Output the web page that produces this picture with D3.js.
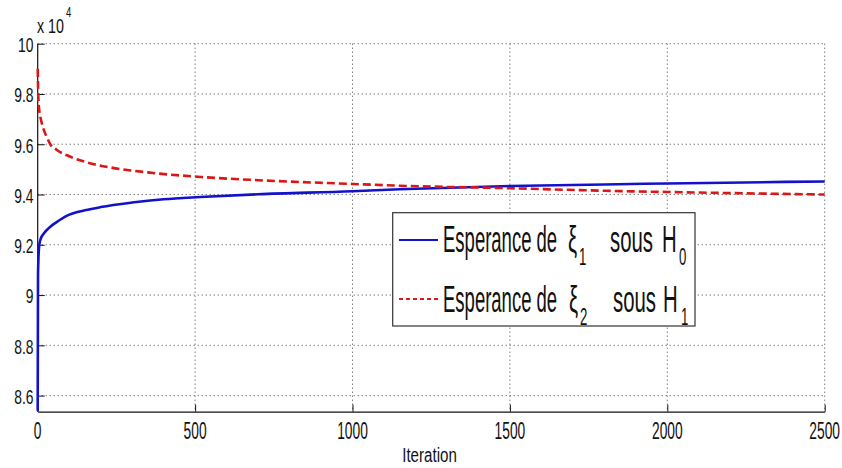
<!DOCTYPE html>
<html>
<head>
<meta charset="utf-8">
<script src="https://cdn.jsdelivr.net/npm/d3@7"></script>
<style>
  html, body { margin: 0; padding: 0; background: #fff; }
  svg { display: block; }
  text { font-family: "Liberation Sans", Arial, sans-serif; fill: #111; }
</style>
</head>
<body>
<svg id="chart" width="842" height="468"></svg>
<script>
// ---- data ----
const xTicks = [0, 500, 1000, 1500, 2000, 2500];
const yTicks = [8.6, 8.8, 9, 9.2, 9.4, 9.6, 9.8, 10];
const yTickLabels = ["8.6", "8.8", "9", "9.2", "9.4", "9.6", "9.8", "10"];
const xLabel = "Iteration";
const yExponent = "4";

const iterH0 = [0, 1, 2, 5, 10, 20, 40, 60, 92, 150, 200, 300, 400, 516, 700, 1000, 1150, 1500, 1800, 2000, 2500];
const esperanceH0 = [8.54, 9.08, 9.13, 9.20, 9.225, 9.246, 9.272, 9.29, 9.315, 9.337, 9.35, 9.368, 9.381, 9.39, 9.401, 9.413, 9.421, 9.434, 9.440, 9.444, 9.452];

const iterH1 = [0, 1, 2, 5, 10, 20, 30, 40, 60, 100, 150, 230, 350, 516, 700, 1000, 1150, 1500, 1800, 2000, 2500];
const esperanceH1 = [9.90, 9.84, 9.79, 9.735, 9.70, 9.655, 9.625, 9.60, 9.578, 9.552, 9.53, 9.508, 9.488, 9.47, 9.457, 9.442, 9.435, 9.425, 9.415, 9.41, 9.40];

const seriesNames = [["Esperance de", "\u03BE", "1", "sous", "H", "0"],
                     ["Esperance de", "\u03BE", "2", "sous", "H", "1"]];

// ---- drawing ----
(function () {
const svg = d3.select("#chart");
const pLeft = 37.7, pRight = 824.7, pTop = 43.7, pBottom = 411.7;
const x = d3.scaleLinear().domain([0, 2500]).range([pLeft, pRight]);
const y = d3.scaleLinear().domain([8.536, 10]).range([pBottom, pTop]);

// grid
const grid = svg.append("g");
grid.selectAll("line.gx").data(xTicks.filter(d => d > 0)).join("line")
  .attr("x1", d => x(d)).attr("x2", d => x(d))
  .attr("y1", pTop).attr("y2", pBottom)
  .attr("stroke", "#444").attr("stroke-width", 1).attr("stroke-dasharray", "1,3");
grid.selectAll("line.gy").data(yTicks).join("line")
  .attr("x1", pLeft).attr("x2", pRight)
  .attr("y1", d => y(d)).attr("y2", d => y(d))
  .attr("stroke", "#444").attr("stroke-width", 1).attr("stroke-dasharray", "1,3");

// axes (ticks inward)
const xAxis = d3.axisBottom(x).tickValues(xTicks).tickSizeInner(-7).tickSizeOuter(0).tickFormat("");
const yAxis = d3.axisLeft(y).tickValues(yTicks).tickSizeInner(-7).tickSizeOuter(0).tickFormat("");
const gx = svg.append("g").attr("transform", `translate(0,${pBottom})`).call(xAxis);
const gy = svg.append("g").attr("transform", `translate(${pLeft},0)`).call(yAxis);
[gx, gy].forEach(g => {
  g.select(".domain").attr("stroke", "#111").attr("stroke-width", 1.2);
  g.selectAll(".tick line").attr("stroke", "#111").attr("stroke-width", 1);
});
gy.select(".domain").attr("d", `M0,${pTop}V${pBottom}`);

// tick labels (condensed)
svg.append("g").selectAll("g").data(xTicks).join("g")
  .attr("transform", d => `translate(${x(d)},${438.5}) scale(0.6,1)`)
  .append("text").attr("text-anchor", "middle").attr("font-size", 23).text(d => d);
svg.append("g").selectAll("g").data(yTicks).join("g")
  .attr("transform", d => `translate(33.5,${y(d) + 8.3}) scale(0.66,1)`)
  .append("text").attr("text-anchor", "end").attr("font-size", 21).text((d, i) => yTickLabels[i]);

// x label
svg.append("g").attr("transform", `translate(429.5,461.5) scale(0.72,1)`)
  .append("text").attr("text-anchor", "middle").attr("font-size", 21).text(xLabel);

// exponent "x 10^4"
const ex = svg.append("g").attr("transform", `translate(37,33.3) scale(0.68,1)`)
  .append("text").attr("font-size", 21);
ex.append("tspan").text("x 10");
ex.append("tspan").attr("font-size", 14).attr("dx", 3).attr("dy", -16).text(yExponent);

// lines
const lineH0 = d3.line().x((d, i) => x(iterH0[i])).y(d => y(d)).curve(d3.curveMonotoneX);
const lineH1 = d3.line().x((d, i) => x(iterH1[i])).y(d => y(d)).curve(d3.curveMonotoneX);
svg.append("path").attr("d", lineH0(esperanceH0))
  .attr("fill", "none").attr("stroke", "#1212cc").attr("stroke-width", 2.6);
svg.append("path").attr("d", lineH1(esperanceH1))
  .attr("fill", "none").attr("stroke", "#dd1515").attr("stroke-width", 2.6)
  .attr("stroke-dasharray", "8,4");

// legend
const lg = svg.append("g");
lg.append("rect").attr("x", 392.7).attr("y", 212.7).attr("width", 302.3).attr("height", 113.3)
  .attr("fill", "#fff").attr("stroke", "#333").attr("stroke-width", 1.2);
const rows = [{yl: 240, yb: 252, color: "#1212cc", dash: null, xs: [443, 568, 579, 610, 662, 679]},
              {yl: 299, yb: 311.5, color: "#dd1515", dash: "4,3", xs: [443, 569, 580, 613, 663, 681]}];
rows.forEach((r, i) => {
  lg.append("line").attr("x1", 399).attr("x2", 438).attr("y1", r.yl).attr("y2", r.yl)
    .attr("stroke", r.color).attr("stroke-width", 2).attr("stroke-dasharray", r.dash);
  const p = seriesNames[i];
  const parts = [
    {t: p[0], fs: 37, dy: 0, sx: 0.5},
    {t: p[1], fs: 37, dy: 0, sx: 0.55},
    {t: p[2], fs: 24, dy: 13, sx: 0.55},
    {t: p[3], fs: 37, dy: 0, sx: 0.55},
    {t: p[4], fs: 37, dy: 0, sx: 0.55},
    {t: p[5], fs: 24, dy: 13, sx: 0.55}
  ];
  parts.forEach((q, k) => {
    lg.append("g").attr("transform", `translate(${r.xs[k]},${r.yb + q.dy}) scale(${q.sx},1)`)
      .append("text").attr("font-size", q.fs).text(q.t);
  });
});
})();
</script>
</body>
</html>
